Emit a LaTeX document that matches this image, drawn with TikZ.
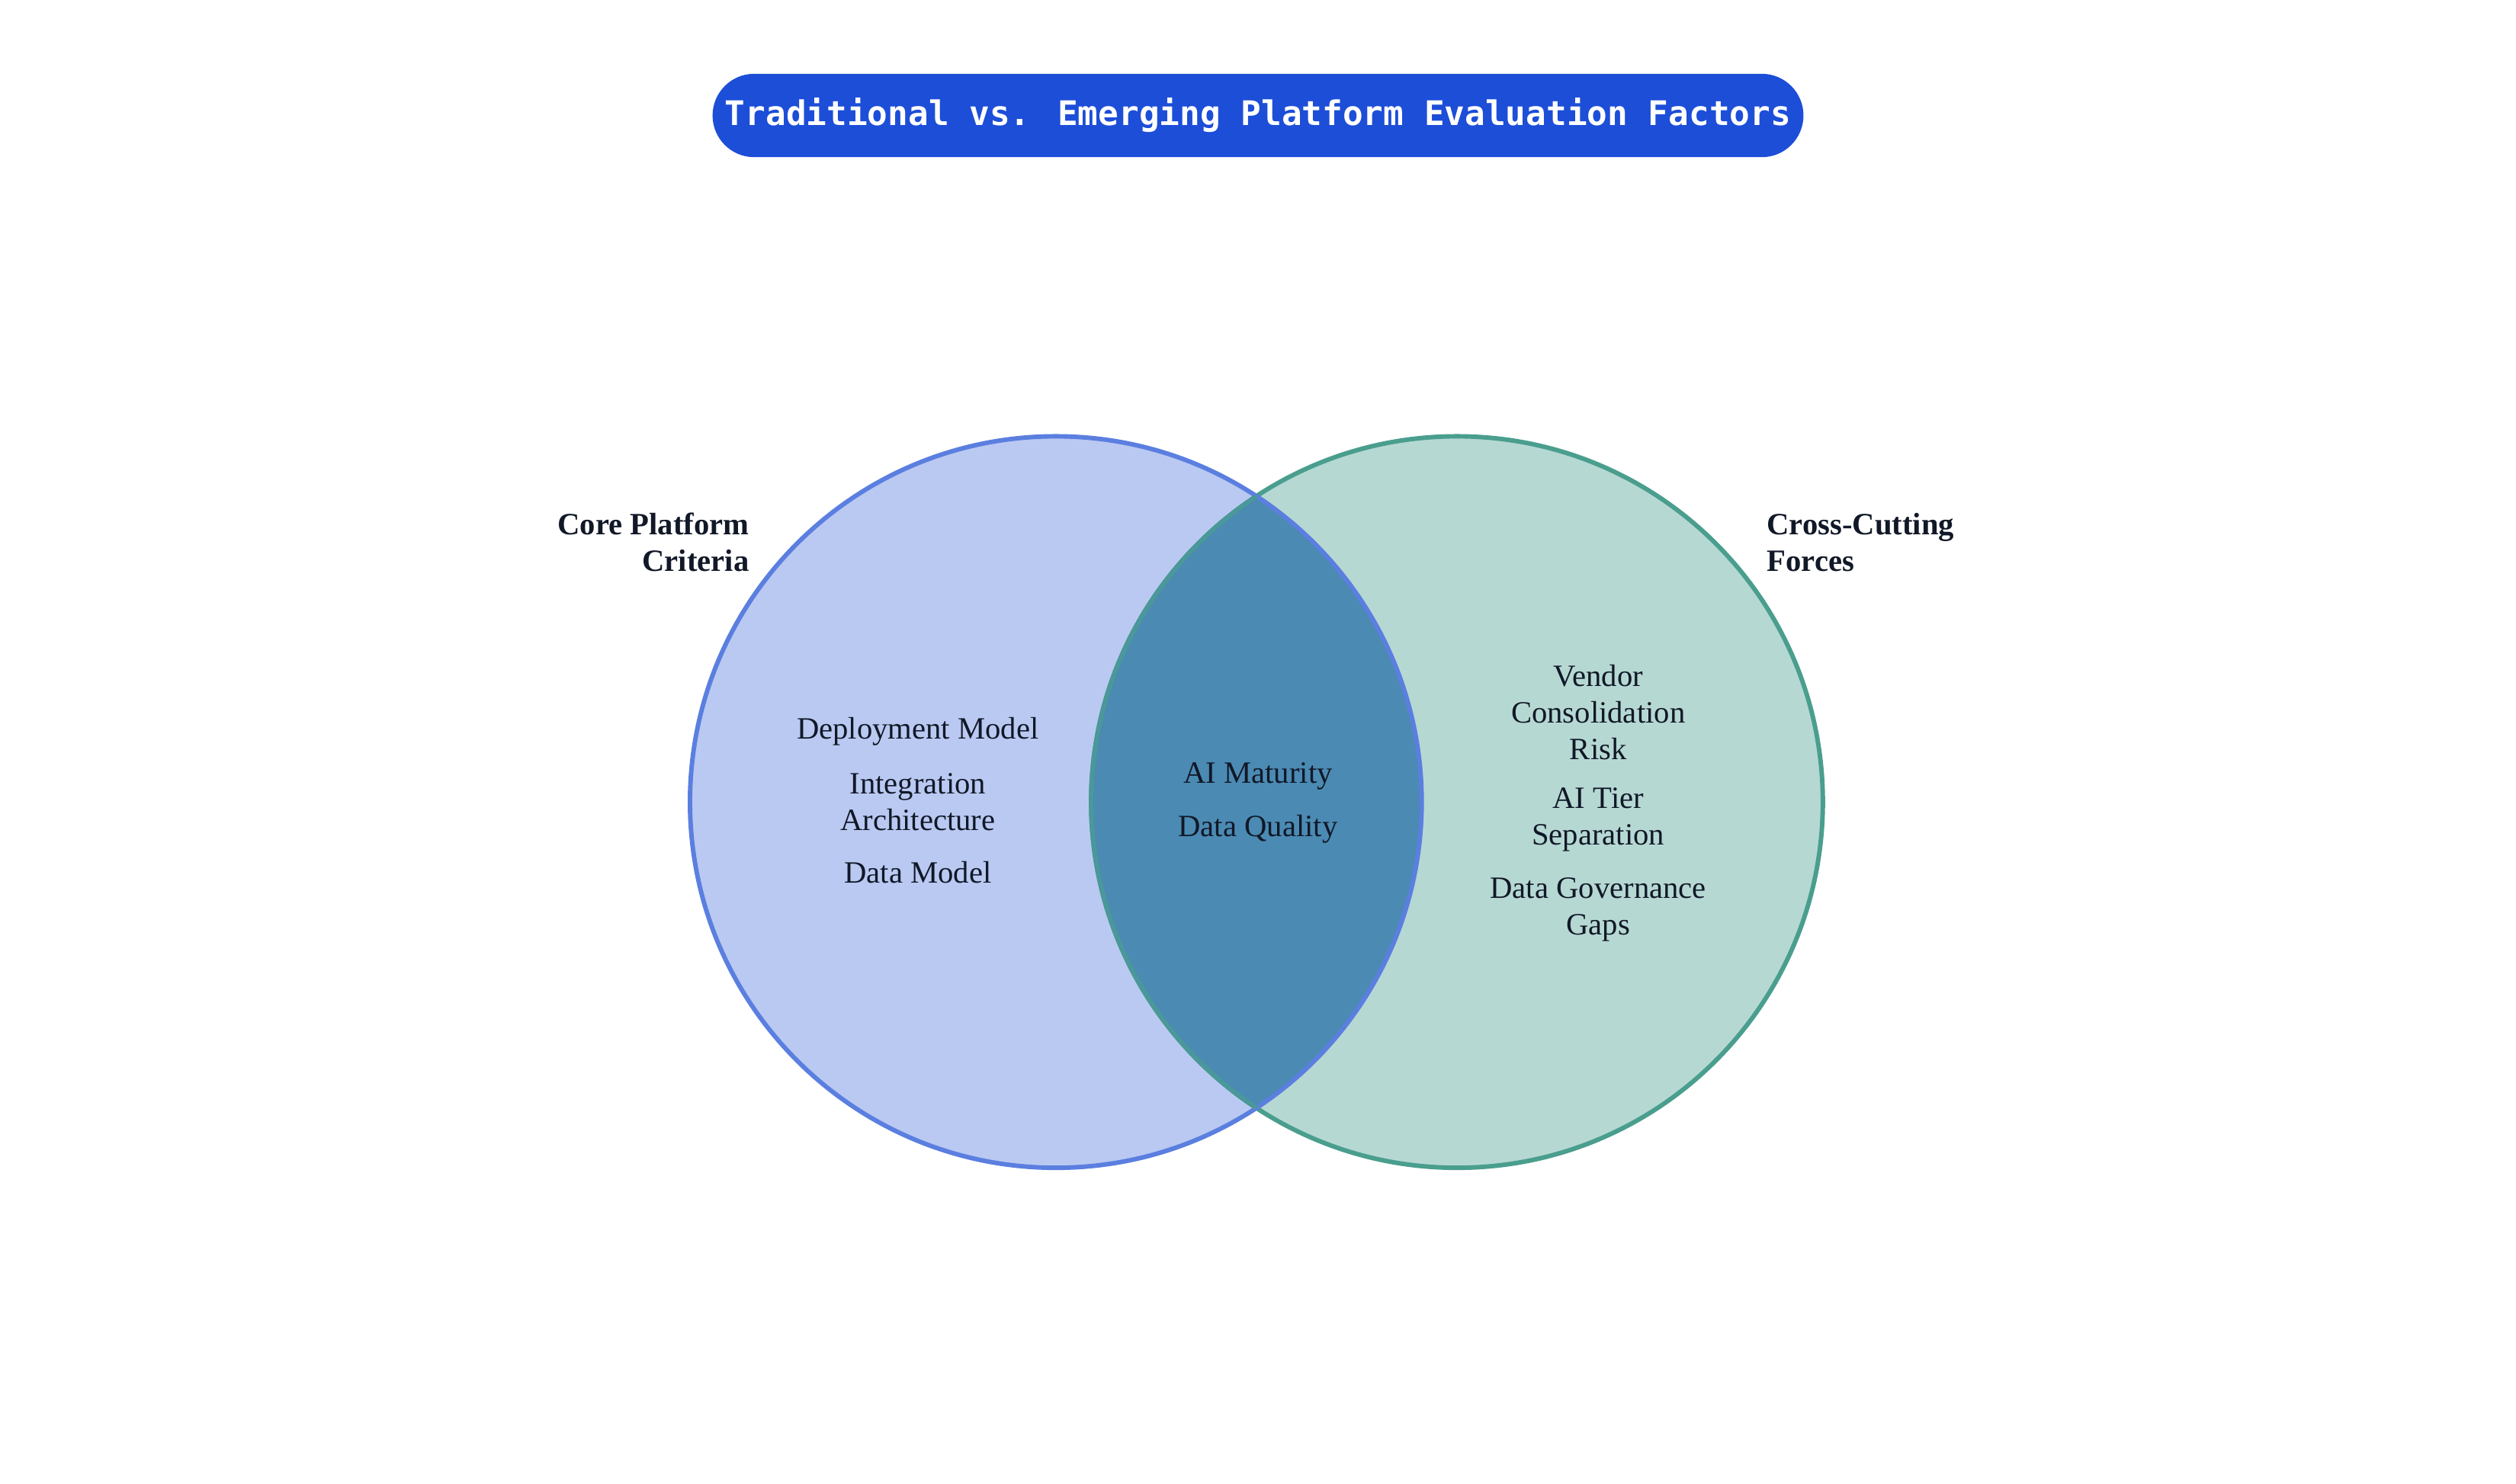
\documentclass[tikz,border=0pt]{standalone}
\usepackage{fontspec}
\setmainfont{Liberation Serif}
\newfontfamily\titlefont{DejaVu Sans Mono}
\definecolor{pillblue}{HTML}{1D4ED8}
\definecolor{leftfill}{HTML}{BAC9F2}
\definecolor{leftline}{HTML}{5B7FE0}
\definecolor{rightfill}{HTML}{B6D8D3}
\definecolor{rightline}{HTML}{4A9E8E}
\definecolor{midfill}{HTML}{4B8AB3}
\definecolor{inktext}{HTML}{111827}
\begin{document}
\begin{tikzpicture}[x=0.02cm,y=-0.02cm,
    item/.style={align=center,font=\fontsize{11}{13}\selectfont,text=inktext},
    setlabel/.style={font=\fontsize{11}{13}\selectfont\bfseries,text=inktext}]
  \useasboundingbox (0,0) rectangle (1568,925);
  % Circle geometry
  \pgfmathsetmacro{\rad}{228}
  \coordinate (lc) at (658,500);
  \coordinate (rc) at (908,500);

  % Fills
  \fill[leftfill] (lc) circle (\rad);
  \fill[rightfill] (rc) circle (\rad);
  \begin{scope}
    \clip (lc) circle (\rad);
    \fill[midfill] (rc) circle (\rad);
  \end{scope}

  % Outlines
  \draw[rightline,line width=1.6pt] (rc) circle (\rad);
  \draw[leftline,line width=1.6pt] (lc) circle (\rad);
  \begin{scope}
    \clip (lc) circle (\rad);
    \draw[rightline!70!midfill,line width=1.6pt] (rc) circle (\rad);
  \end{scope}

  % Title
  \node[fill=pillblue,rounded corners=0.52cm,minimum width=13.6cm,minimum height=1.04cm,
    text=white,font=\titlefont\bfseries\fontsize{12}{14}\selectfont] (title) at (784,72)
    {Traditional vs. Emerging Platform Evaluation Factors};

  % Set labels
  \node[setlabel,anchor=east,align=right] (coreLbl) at (473,338) {Core Platform\\Criteria};
  \node[setlabel,anchor=west,align=left] (forceLbl) at (1095,338) {Cross-Cutting\\Forces};

  % Left items
  \node[item] (deploy) at (572,456) {Deployment Model};
  \node[item] (integ) at (572,500) {Integration\\Architecture};
  \node[item] (dmodel) at (572,544) {Data Model};

  % Middle items
  \node[item] (aimat) at (784,484) {AI Maturity};
  \node[item] (dqual) at (784,517) {Data Quality};

  % Right items
  \node[item] (vendor) at (996,444) {Vendor\\Consolidation\\Risk};
  \node[item] (aitier) at (996,511) {AI Tier\\Separation};
  \node[item] (dgov) at (996,567) {Data Governance\\Gaps};
\end{tikzpicture}
\end{document}
